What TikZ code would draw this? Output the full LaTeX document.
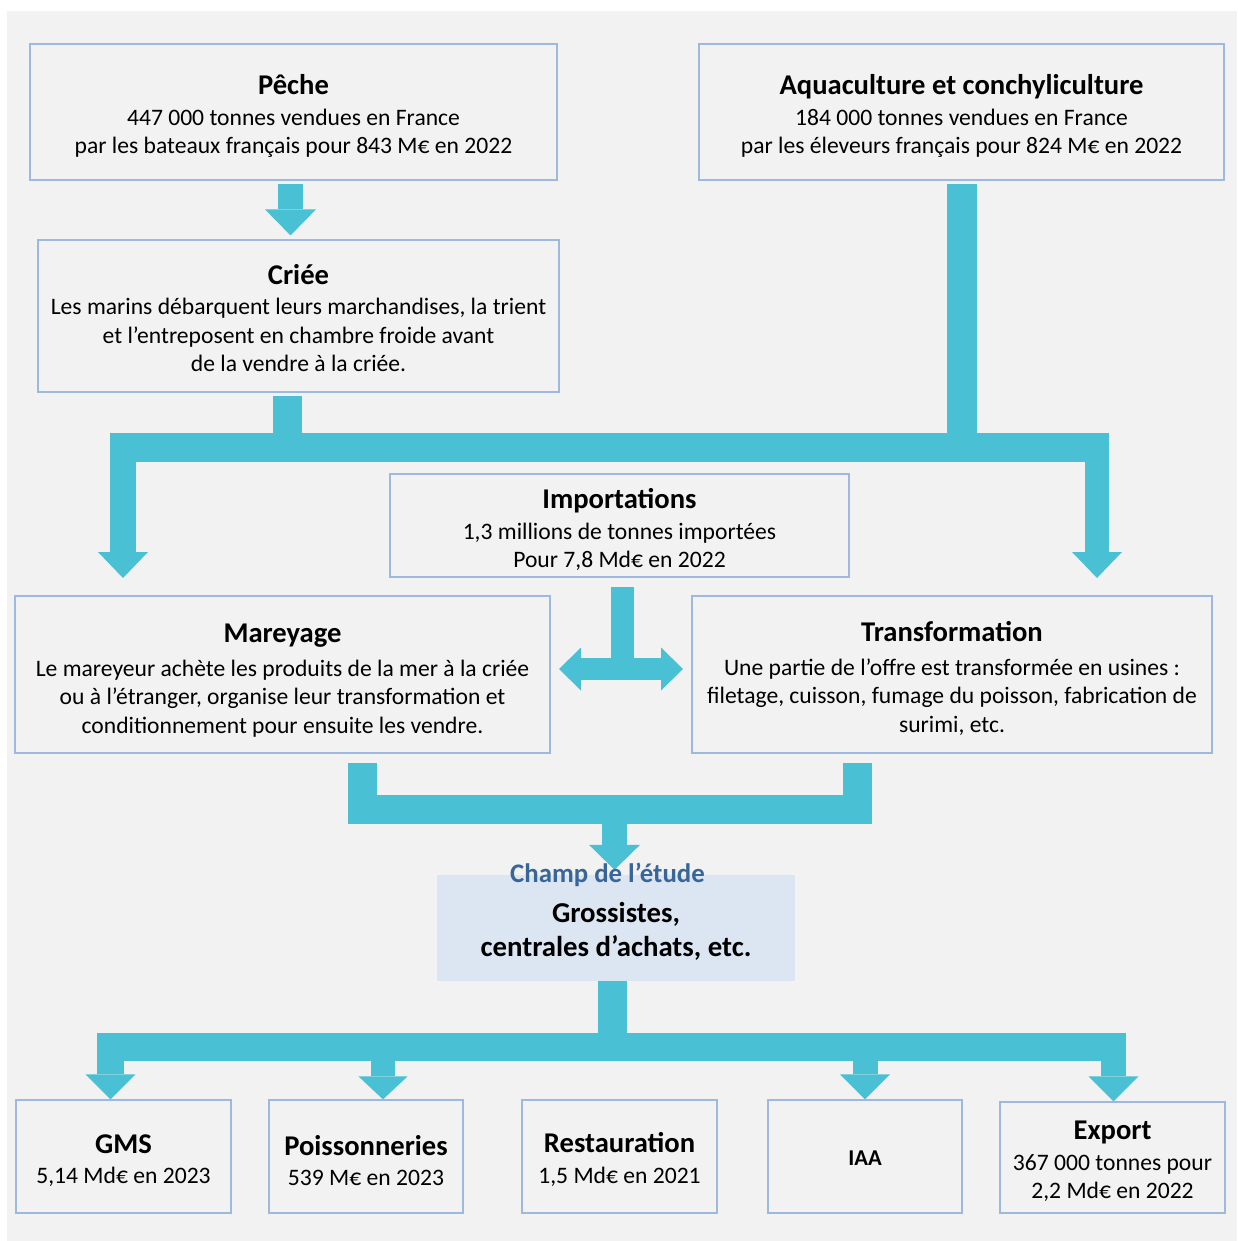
\documentclass[tikz,border=0pt]{standalone}
\usepackage{fontspec}
\setmainfont{Carlito}
\usetikzlibrary{arrows.meta}
\definecolor{bgc}{HTML}{F2F2F2}
\definecolor{flowc}{HTML}{4AC0D4}
\definecolor{edgec}{HTML}{9DB9DD}
\definecolor{champfill}{HTML}{DCE6F2}
\definecolor{champtxt}{HTML}{38659A}
\newcommand\mytitle{\fontsize{28.6}{34}\selectfont\bfseries}
\newcommand\mybody{\fontsize{23.6}{28.5}\selectfont\mdseries}
\begin{document}
\begin{tikzpicture}[x=1pt,y=-1pt,
  box/.style={draw=edgec, line width=1.2pt, fill=bgc, inner sep=0pt},
  boxtxt/.style={align=center, inner sep=0pt, font=\mybody},
  flow/.style={draw=flowc, line width=#1},
  flow/.default=28pt,
  fatarrow/.style n args={3}{draw=flowc, line width=#1,
    -{Triangle[width=#2,length=#3,line width=0pt]}},
  dblarrow/.style n args={3}{draw=flowc, line width=#1,
    {Triangle[width=#2,length=#3,line width=0pt]}-{Triangle[width=#2,length=#3,line width=0pt]}}]
\useasboundingbox (0,0) rectangle (1237,1241);
\fill[bgc] (7,11) rectangle (1237,1241);

% boxes
\node[box, minimum width=527pt, minimum height=136pt] (peche) at (293.5,112) {};
\node[boxtxt] (pecheT) at ([yshift=-4pt]peche.center)
  {{\mytitle Pêche}\\[2.5pt] 447 000 tonnes vendues en France\\ par les bateaux français pour 843 M€ en 2022};
\node[box, minimum width=525pt, minimum height=136pt] (aqua) at (961.5,112) {};
\node[boxtxt] (aquaT) at ([yshift=-4pt]aqua.center)
  {{\mytitle Aquaculture et conchyliculture}\\[2.5pt] 184 000 tonnes vendues en France\\ par les éleveurs français pour 824 M€ en 2022};
\node[box, minimum width=521pt, minimum height=152pt] (criee) at (298.5,316) {};
\node[boxtxt] (crieeT) at ([yshift=-2pt]criee.center)
  {{\mytitle Criée}\\[2pt] Les marins débarquent leurs marchandises, la trient\\ et l’entreposent en chambre froide avant\\ de la vendre à la criée.};
\node[box, minimum width=459pt, minimum height=103pt] (impo) at (619.5,525.5) {};
\node[boxtxt] (impoT) at ([yshift=-4pt]impo.center)
  {{\mytitle Importations}\\[2pt] 1,3 millions de tonnes importées\\ Pour 7,8 Md€ en 2022};
\node[box, minimum width=535pt, minimum height=157pt] (mare) at (282.5,674.5) {};
\node[boxtxt] (mareT) at ([yshift=-6pt]mare.center)
  {{\mytitle Mareyage}\\[5pt] Le mareyeur achète les produits de la mer à la criée\\ ou à l’étranger, organise leur transformation et\\ conditionnement pour ensuite les vendre.};
\node[box, minimum width=520pt, minimum height=157pt] (transf) at (952,674.5) {};
\node[boxtxt] (transfT) at ([yshift=-4pt]transf.center)
  {{\mytitle Transformation}\\[5pt] Une partie de l’offre est transformée en usines :\\ filetage, cuisson, fumage du poisson, fabrication de\\ surimi, etc.};
\node[fill=champfill, minimum width=358pt, minimum height=106pt, inner sep=0pt] (champ) at (616,928) {};
\node[boxtxt, font=\fontsize{28.8}{34}\selectfont\bfseries] (champT) at ([yshift=-3pt]champ.center)
  {Grossistes,\\ centrales d’achats, etc.};
\node[box, minimum width=215pt, minimum height=113pt] (gms) at (123.5,1156.5) {};
\node[boxtxt] (gmsT) at ([yshift=-4pt]gms.center)
  {{\mytitle GMS}\\[2pt] 5,14 Md€ en 2023};
\node[box, minimum width=194pt, minimum height=113pt] (poiss) at (366,1156.5) {};
\node[boxtxt] (poissT) at ([yshift=-4pt]poiss.center)
  {{\mytitle Poissonneries}\\[2pt] 539 M€ en 2023};
\node[box, minimum width=195pt, minimum height=113pt] (resto) at (619.5,1156.5) {};
\node[boxtxt] (restoT) at ([yshift=-3pt]resto.center)
  {{\mytitle Restauration}\\[2pt] 1,5 Md€ en 2021};
\node[box, minimum width=194pt, minimum height=113pt] (iaa) at (865,1156.5) {};
\node[boxtxt, font=\fontsize{22.6}{26}\selectfont\bfseries] (iaaT) at ([yshift=-2pt]iaa.center) {IAA};
\node[box, minimum width=225pt, minimum height=111pt] (export) at (1112.5,1157.5) {};
\node[boxtxt] (exportT) at ([yshift=-4pt]export.center)
  {{\mytitle Export}\\[2pt] 367 000 tonnes pour\\ 2,2 Md€ en 2022};

% junction coordinates
\coordinate (jtopA) at (961.5,447);
\coordinate (barL) at (110,447);
\coordinate (barR) at (1109,447);
\coordinate (jcriee) at (287.5,447);
\coordinate (tipL) at (123,578);
\coordinate (tipR) at (1097,578);
\coordinate (impoJ) at (622.5,680);
\coordinate (tipML) at (559,669);
\coordinate (tipMR) at (683,669);
\coordinate (uL) at (362.5,809);
\coordinate (uR) at (857.5,809);
\coordinate (uM) at (614.5,809);
\coordinate (botJ) at (612.5,1047);
\coordinate (botL) at (97,1047);
\coordinate (botR) at (1126,1047);

% Pêche -> Criée
\draw[fatarrow={25pt}{51pt}{26pt}, shorten <=3pt, shorten >=4pt]
  ([xshift=-3pt]peche.south) -- ([xshift=-3pt]peche.south |- criee.north);
% Aquaculture and Criée -> fork
\draw[flow=30pt, shorten <=3pt] (aqua.south) -- (jtopA);
\draw[flow=29pt, shorten <=3pt] ([xshift=-11pt]criee.south) -- (jcriee);
\draw[flow=29pt] (barL) -- (barR);
\draw[fatarrow={26pt}{50pt}{26pt}] (tipL |- barL) -- (tipL);
\draw[fatarrow={24pt}{50pt}{26pt}] (tipR |- barR) -- (tipR);
% Importations -> Mareyage / Transformation
\draw[flow=23pt, shorten <=9pt] ([xshift=3pt]impo.south) -- (impoJ);
\draw[dblarrow={22pt}{43pt}{22pt}] (tipML) -- (tipMR);
% Mareyage / Transformation -> Champ
\draw[flow=29pt, shorten <=9pt, shorten >=9pt] (uL |- mare.south) -- (uL) -- (uR) -- (uR |- transf.south);
\draw[fatarrow={25pt}{51pt}{25pt}, shorten >=5pt] (uM) -- (uM |- champ.north);
% Champ -> destinations
\draw[flow=29pt] (champ.south -| botJ) -- (botJ);
\draw[flow=28pt] (botL) -- (botR);
\draw[fatarrow={27pt}{50pt}{25pt}] ([xshift=-13pt]gms.north |- botL) -- ([xshift=-13pt]gms.north);
\draw[fatarrow={24pt}{49pt}{23pt}] ([xshift=17pt]poiss.north |- botL) -- ([xshift=17pt]poiss.north);
\draw[fatarrow={25pt}{50pt}{25pt}] (iaa.north |- botL) -- (iaa.north);
\draw[fatarrow={25pt}{50pt}{25pt}] ([xshift=1pt]export.north |- botR) -- ([xshift=1pt]export.north);

\node[text=champtxt, font=\fontsize{26.8}{30}\selectfont\bfseries] (champlbl) at (607.5,875) {Champ de l’étude};
\end{tikzpicture}
\end{document}
